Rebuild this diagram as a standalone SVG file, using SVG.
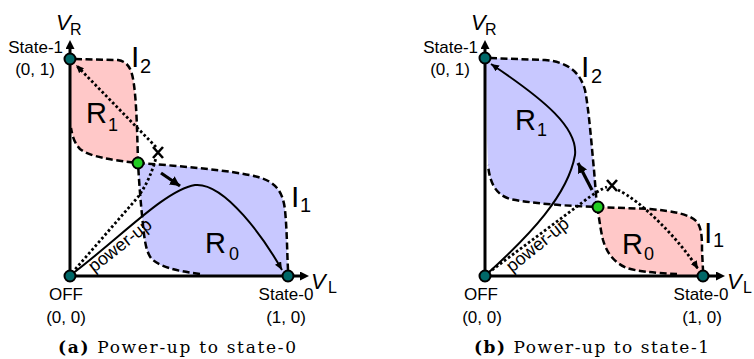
<svg xmlns="http://www.w3.org/2000/svg" width="754" height="359" viewBox="0 0 754 359">
<style>
text{font-family:"Liberation Sans",Arial,sans-serif;fill:#000}
.lbl{font-size:17px}
.big{font-size:29px}
.sub{font-size:18px}
.ib{font-size:30px}
.isub{font-size:20px}
.v{font-size:22px;font-style:italic}
.vs{font-size:16px}
.pu{font-size:18px}
.cap{font-family:"DejaVu Serif","Liberation Serif",serif;font-size:17px}
.red{fill:#ffc8c8;stroke:none}
.blue{fill:#c8c8ff;stroke:none}
.dash{fill:none;stroke:#000;stroke-width:2.5;stroke-dasharray:7 3.5}
.axis{fill:none;stroke:#000;stroke-width:3}
.curve{fill:none;stroke:#000;stroke-width:2}
.dotl{fill:none;stroke:#000;stroke-width:2.8;stroke-dasharray:2.6 2.4}
.bold{fill:none;stroke:#000;stroke-width:3.2}
.xm{stroke:#000;stroke-width:2.6;fill:none}
.st{fill:#006868;stroke:#000;stroke-width:2}
.sd{fill:#22cc22;stroke:#000;stroke-width:2}
</style>
<defs>
<marker id="ax" markerUnits="userSpaceOnUse" markerWidth="9" markerHeight="9" viewBox="0 0 9 9" refX="0" refY="4.5" orient="auto"><path d="M0,0 L9,4.5 L0,9 Z" fill="#000"/></marker>
<marker id="sm" markerUnits="userSpaceOnUse" markerWidth="8" markerHeight="7" viewBox="0 0 8 7" refX="8" refY="3.5" orient="auto"><path d="M0,0 L8,3.5 L0,7 Z" fill="#000"/></marker>
<marker id="bd" markerUnits="userSpaceOnUse" markerWidth="10" markerHeight="10" viewBox="0 0 10 10" refX="10" refY="5" orient="auto"><path d="M0,0 L10,5 L0,10 Z" fill="#000"/></marker>
</defs>

<!-- Panel (a) regions -->
<g id="a-R1">
<path class="red" d="M70,59 L118,60 C129,62 132,70 134,85 C136,100 137,120 138,163 C112,160 90,157 80,149 C74,143 72,134 71,128 Z"/>
<path class="dash" d="M75,59 L118,60 C129,62 132,70 134,85 C136,100 137,120 138,163 C112,160 90,157 80,149 C74,143 72,134 71,128"/>
<text class="big" x="86" y="123">R</text><text class="sub" x="108" y="131">1</text>
</g>
<g id="a-R0">
<path class="blue" d="M138,163 C180,166 230,170 258,177 C276,182 283,192 285,210 C287,230 287,250 288,276 L200,276 C175,272 158,266 151,258 C145,250 144,235 142,215 C140,195 139,180 138,163 Z"/>
<path class="dash" d="M138,163 C180,166 230,170 258,177 C276,182 283,192 285,210 C287,230 287,250 288,270 M200,274 C175,271 158,266 151,258 C145,250 144,235 142,215 C140,195 139,180 138,163"/>
<text class="big" x="205" y="253">R</text><text class="sub" x="229" y="260">0</text>
</g>
<g id="a-I2"><text class="ib" x="131" y="67">I</text><text class="isub" x="140" y="73">2</text></g>
<g id="a-I1"><text class="ib" x="291" y="207">I</text><text class="isub" x="300" y="212">1</text></g>

<!-- Panel (b) regions -->
<g id="b-R1">
<path class="blue" d="M486,58 L545,60 C568,62 580,72 585,90 C589,110 592,150 594,170 L597,207 C570,206 535,204 510,199 C497,195 490,185 488,165 L487,140 Z"/>
<path class="dash" d="M490,58 L545,60 C568,62 580,72 585,90 C589,110 592,150 594,170 L597,207 C570,206 535,204 510,199 C497,195 490,185 488,165"/>
<text class="big" x="515" y="130">R</text><text class="sub" x="537" y="136">1</text>
</g>
<g id="b-R0">
<path class="red" d="M597,207 L650,209 C672,211 690,214 697,222 C702,228 702,240 702,250 L703,276 L677,276 C655,273 635,271 627,268 C612,262 606,250 603,240 C600,228 599,215 597,207 Z"/>
<path class="dash" d="M597,207 L650,209 C672,211 690,214 697,222 C702,228 702,240 702,250 L703,270 M597,207 C599,215 600,228 603,240 C606,250 612,262 627,268 C635,271 655,273 677,274"/>
<text class="big" x="622" y="254">R</text><text class="sub" x="644" y="260">0</text>
</g>
<g id="b-I2"><text class="ib" x="581" y="77">I</text><text class="isub" x="591" y="83">2</text></g>
<g id="b-I1"><text class="ib" x="704" y="243">I</text><text class="isub" x="713" y="247">1</text></g>

<!-- Axes and connectors -->
<g id="connectors">
<path class="axis" d="M70,277 L70,49" marker-end="url(#ax)"/>
<path class="axis" d="M69,276 L300,276" marker-end="url(#ax)"/>
<path class="axis" d="M485,277 L485,49" marker-end="url(#ax)"/>
<path class="axis" d="M484,276 L716,276" marker-end="url(#ax)"/>

<path class="curve" d="M72,274 C120,238 165,190 195,185 C225,182 265,240 282,270" marker-end="url(#sm)"/>
<path class="dotl" d="M72,273 L138,197 Q150,180 156,158"/>
<path class="dotl" d="M156,147 L76,65" marker-end="url(#sm)"/>
<path class="bold" d="M161,173 L180,186" marker-end="url(#bd)"/>
<path class="xm" d="M153,147 L163,158 M163,147 L153,158"/>

<path class="curve" d="M487,274 C530,235 568,195 575,155 C578,128 545,100 491,64" marker-end="url(#sm)"/>
<path class="dotl" d="M488,273 L583,202 Q598,190 607,187"/>
<path class="dotl" d="M618,190 C640,200 680,240 698,269" marker-end="url(#sm)"/>
<path class="bold" d="M592,190 L578,163" marker-end="url(#bd)"/>
<path class="xm" d="M607,180 L617,191 M617,180 L607,191"/>
</g>

<g id="a-labels">
<text class="v" x="56" y="30">V</text><text class="vs" x="70" y="35">R</text>
<text class="v" x="311" y="289">V</text><text class="vs" x="328" y="293">L</text>
<text class="pu" transform="translate(94,273) rotate(-38)">power-up</text>
</g>
<g id="b-labels">
<text class="v" x="471" y="30">V</text><text class="vs" x="485" y="35">R</text>
<text class="v" x="727" y="289">V</text><text class="vs" x="743" y="293">L</text>
<text class="pu" transform="translate(512,273) rotate(-39)">power-up</text>
</g>

<!-- Panel (a) nodes -->
<g id="a-state1"><circle class="st" cx="70" cy="59" r="5.5"/><text class="lbl" x="63" y="53" text-anchor="end">State-1</text><text class="lbl" x="35" y="75" text-anchor="middle">(0, 1)</text></g>
<g id="a-off"><circle class="st" cx="70" cy="276" r="5.5"/><text class="lbl" x="66" y="300" text-anchor="middle">OFF</text><text class="lbl" x="66" y="323" text-anchor="middle">(0, 0)</text></g>
<g id="a-state0"><circle class="st" cx="288" cy="276" r="5.5"/><text class="lbl" x="286" y="300" text-anchor="middle">State-0</text><text class="lbl" x="286" y="323" text-anchor="middle">(1, 0)</text></g>
<g id="a-saddle"><circle class="sd" cx="138" cy="163" r="5.5"/></g>

<!-- Panel (b) nodes -->
<g id="b-state1"><circle class="st" cx="485" cy="58" r="5.5"/><text class="lbl" x="478" y="53" text-anchor="end">State-1</text><text class="lbl" x="450" y="75" text-anchor="middle">(0, 1)</text></g>
<g id="b-off"><circle class="st" cx="485" cy="276" r="5.5"/><text class="lbl" x="481" y="300" text-anchor="middle">OFF</text><text class="lbl" x="482" y="323" text-anchor="middle">(0, 0)</text></g>
<g id="b-state0"><circle class="st" cx="703" cy="276" r="5.5"/><text class="lbl" x="701" y="300" text-anchor="middle">State-0</text><text class="lbl" x="702" y="323" text-anchor="middle">(1, 0)</text></g>
<g id="b-saddle"><circle class="sd" cx="598" cy="207" r="5.5"/></g>

<g id="captions">
<text class="cap" x="58" y="353" textLength="238" lengthAdjust="spacing"><tspan font-weight="bold">(a)</tspan> Power-up to state-0</text>
<text class="cap" x="474" y="353" textLength="235" lengthAdjust="spacing"><tspan font-weight="bold">(b)</tspan> Power-up to state-1</text>
</g>
</svg>
